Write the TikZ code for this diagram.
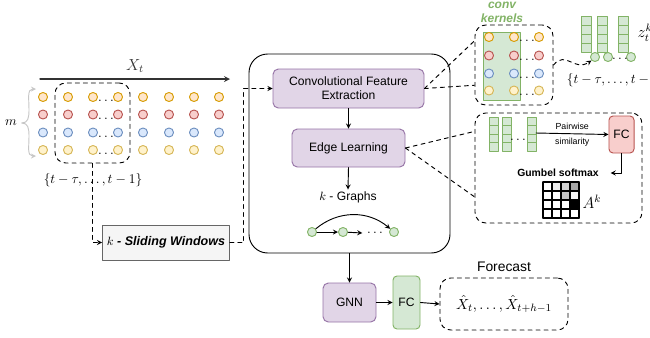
\documentclass[tikz,border=0pt]{standalone}
\usepackage{fontspec}
\setmainfont{Liberation Sans}
\usepackage{amsmath}
\usetikzlibrary{positioning,calc}

\definecolor{purpF}{HTML}{E1D5E7}
\definecolor{purpD}{HTML}{9673A6}
\definecolor{greenF}{HTML}{D5E8D4}
\definecolor{greenD}{HTML}{82B366}
\definecolor{redF}{HTML}{F8CECC}
\definecolor{redD}{HTML}{B85450}
\definecolor{orgF}{HTML}{FFE6CC}
\definecolor{orgD}{HTML}{D79B00}
\definecolor{yelF}{HTML}{FFF2CC}
\definecolor{yelD}{HTML}{D6B656}
\definecolor{bluF}{HTML}{DAE8FC}
\definecolor{bluD}{HTML}{6C8EBF}
\definecolor{grayF}{HTML}{F5F5F5}
\definecolor{grayD}{HTML}{666666}

\tikzset{
  txt/.style={font=\fontsize{9.1}{10.5}\selectfont},
  purpbox/.style={draw=purpD, fill=purpF, rounded corners=4pt, align=center, txt},
  greenbox/.style={draw=greenD, fill=greenF, rounded corners=3pt, txt},
  redbox/.style={draw=redD, fill=redF, rounded corners=3pt, txt},
  dashbox/.style={draw, dashed, rounded corners=8pt},
  dotO/.style={circle, draw=orgD, fill=orgF, inner sep=0pt, minimum size=6.8pt},
  dotR/.style={circle, draw=redD, fill=redF, inner sep=0pt, minimum size=6.8pt},
  dotB/.style={circle, draw=bluD, fill=bluF, inner sep=0pt, minimum size=6.8pt},
  dotY/.style={circle, draw=yelD, fill=yelF, inner sep=0pt, minimum size=6.8pt},
  gnode/.style={circle, draw=greenD, fill=greenF, inner sep=0pt, minimum size=6.8pt},
  cell/.style={draw=greenD, fill=greenF},
}

\begin{document}
\begin{tikzpicture}[x=0.75pt, y=-0.75pt, line width=0.7pt, line join=round, line cap=round, >=stealth]
  \useasboundingbox (0,0) rectangle (650,337);

  % input series
  \coordinate (xs) at (40,79);
  \coordinate (xe) at (230,79);
  \draw[->, line width=1pt, black!80] (xs) -- (xe) node[midway, above=1pt, font=\large] {$X_t$};

  \foreach \y/\s [count=\r] in {97/dotO,114.5/dotR,132.5/dotB,150/dotY} {
    \foreach \x in {43,68,93,118,143,169,194,219}
      \node[\s] (d\r-\x) at (\x,\y) {};
    \node (wd\r) at (106,\y+4) {$\ldots$};
  }

  % number of series
  \node (m) at (11,123) {$m$};
  \draw[->, gray!45] (m.east) .. controls (28,123) and (29,118) .. (29,110) .. controls (29,99) and (27,89) .. (36,89);
  \draw[->, gray!45] (m.east) .. controls (28,123) and (29,128) .. (29,136) .. controls (29,147) and (27,156) .. (36,156);

  % sliding window
  \node[dashbox, minimum width=56.25pt, minimum height=60pt] (win) at (92.5,123) {};
  \node (tset) at (93,180) {$\{t-\tau,\ldots,t-1\}$};
  \node[draw=grayD, fill=grayF, minimum width=91.5pt, minimum height=26.25pt,
        font=\fontsize{9.4}{11}\selectfont\bfseries\itshape] (slide) at (166,242.5) {$k$ - Sliding Windows};
  \draw[dashed, ->] (win.south) |- (slide.west);

  % graph learning block
  \node[draw, rounded corners=14pt, minimum width=150.75pt, minimum height=149.25pt] (main) at (349.5,153.5) {};
  \node[purpbox, minimum width=113.25pt, minimum height=29.25pt] (conv) at (348.5,88.5) {Convolutional Feature\\Extraction};
  \node[purpbox, minimum width=84.75pt, minimum height=28.5pt] (edge) at (348.5,148) {Edge Learning};
  \node[txt, inner sep=1pt] (graphs) at (348,197) {$k$ - Graphs};
  \draw[->] (conv.south) -- (edge.north);
  \draw[->] (edge.south) -- (graphs.north);
  \draw[dashed, ->] (slide.east) -- ++(14,0) |- (conv.west);

  \node[gnode] (g1) at (312,232) {};
  \node[gnode] (g2) at (343,232) {};
  \node[gnode] (g3) at (394,232) {};
  \node (gd) at (375,233) {$\ldots$};
  \draw[->] (g1) -- (g2);
  \draw[->] (g2) -- (gd.west);
  \draw[->] (g1) to[bend left=40] (g3);

  % forecasting head
  \node[purpbox, minimum width=39.75pt, minimum height=29.25pt] (gnn) at (349.5,302.5) {GNN};
  \node[greenbox, minimum width=20.25pt, minimum height=39.75pt] (fc) at (406.5,302.5) {FC};
  \node[dashbox, minimum width=96pt, minimum height=39pt, font=\fontsize{11}{13}\selectfont] (fore) at (504,304) {$\hat{X}_t,\ldots,\hat{X}_{t+h-1}$};
  \node[above=1pt of fore, font=\fontsize{10.4}{12}\selectfont] (forelab) {Forecast};
  \draw[->] (main.south) -- (gnn.north);
  \draw[->] (gnn.east) -- (fc.west);
  \draw[->] (fc.east) -- (fore.west);

  % conv kernels
  \node[dashbox, minimum width=58.5pt, minimum height=60pt] (kbox) at (514,65) {};
  \node[draw=greenD, fill=greenF, minimum width=27.75pt, minimum height=51pt] (krect) at (501.5,66) {};
  \node[text=greenD, align=center, font=\fontsize{9}{10.5}\selectfont\bfseries\itshape] (klab) at (502,12) {conv\\kernels};
  \foreach \y/\s [count=\r] in {37/dotO,55.5/dotR,73.5/dotB,90.5/dotY} {
    \foreach \x in {489,514,539}
      \node[\s] (k\r-\x) at (\x,\y) {};
    \node (kd\r) at (527,\y+4) {$\ldots$};
  }
  \draw[dashed] (conv.east) -- ($(kbox.north west)!0.2!(kbox.south west)$);
  \draw[dashed] (conv.east) -- ($(kbox.north west)!0.75!(kbox.south west)$);

  % node embeddings
  \foreach \x in {581,597,618}
    \foreach \j in {0,...,3}
      \draw[cell] (\x,16+9*\j) rectangle ++(10,9);
  \node[gnode] (zc1) at (595,57) {};
  \node[gnode] (zc2) at (608,57) {};
  \node[gnode] (zc3) at (631,57) {};
  \node (zd) at (620,59) {$\ldots$};
  \node[font=\large] (zlab) at (645,33) {$z_t^k$};
  \node[anchor=west] (tset2) at (562,80) {$\{t-\tau,\ldots,t-1\}$};
  \draw[dashed, ->] (kbox.east) .. controls (566,50) and (574,72) .. (zc1.south west);

  % edge learning detail
  \node[dashbox, minimum width=125.25pt, minimum height=82.5pt] (ebox) at (558.5,168) {};
  \draw[dashed] (edge.east) -- ($(ebox.north west)!0.17!(ebox.south west)$);
  \draw[dashed] (edge.east) -- ($(ebox.north west)!0.76!(ebox.south west)$);
  \foreach \x in {489,502,527}
    \foreach \j in {0,...,3}
      \draw[cell] (\x,117+8.5*\j) rectangle ++(9,8.5);
  \node (ed) at (518,140) {$\ldots$};
  \coordinate (ec3) at (536,133);
  \node[redbox, minimum width=17.25pt, minimum height=27.75pt] (fcr) at (621.5,134.5) {FC};
  \draw[->] (ec3) -- (fcr.west)
    node[midway, above=-0.5pt, font=\fontsize{6.6}{8}\selectfont] {Pairwise}
    node[midway, below=-0.5pt, font=\fontsize{6.6}{8}\selectfont] {similarity};
  \node[font=\fontsize{7.8}{9}\selectfont\bfseries] (gum) at (558,173) {Gumbel softmax};
  \draw[->] (fcr.south) |- ($(gum.east)+(7,0)$);

  % adjacency matrix
  \foreach \i/\j/\c in {1/0/gray!15, 2/0/gray!35, 3/0/gray!70, 2/1/gray!45, 3/1/gray!8, 3/2/black}
    \fill[\c] (543+9*\i,182+9*\j) rectangle ++(9,9);
  \foreach \k in {0,...,4} {
    \draw[line width=1pt] (543+9*\k,182) -- ++(0,36);
    \draw[line width=1pt] (543,182+9*\k) -- ++(36,0);
  }
  \node[font=\large] (adj) at (592,202) {$A^k$};

\end{tikzpicture}
\end{document}
